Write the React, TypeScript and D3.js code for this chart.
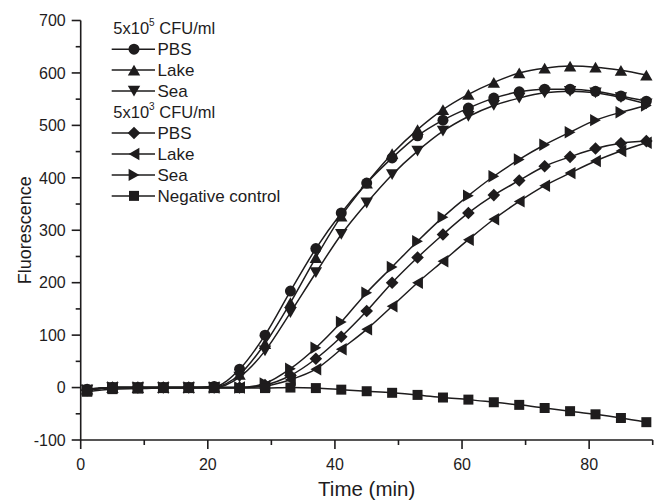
import React from "react";
import * as d3 from "d3";

const times = [1, 5, 9, 13, 17, 21, 25, 29, 33, 37, 41, 45, 49, 53, 57, 61, 65, 69, 73, 77, 81, 85, 89];
const pbsHigh = [-3, 0, 0, 0, 0, 2, 35, 100, 184, 265, 333, 390, 438, 480, 510, 533, 552, 564, 569, 569, 565, 556, 546];
const lakeHigh = [-3, 0, 0, 0, 0, 1, 25, 84, 162, 248, 327, 390, 446, 492, 530, 559, 582, 600, 609, 613, 611, 605, 596];
const seaHigh = [-5, 0, 0, 0, 0, 0, 20, 70, 143, 219, 292, 352, 406, 451, 489, 517, 538, 552, 562, 565, 562, 553, 541];
const pbsLow = [-5, 0, 0, 0, 0, 0, 0, 5, 23, 55, 97, 146, 200, 248, 292, 333, 367, 395, 422, 440, 456, 466, 470];
const lakeLow = [-5, 0, 0, 0, 0, 0, 0, 3, 15, 35, 73, 111, 155, 200, 241, 282, 321, 355, 385, 409, 432, 451, 467];
const seaLow = [-5, 0, 0, 0, 0, 0, 0, 8, 36, 76, 125, 181, 230, 279, 325, 366, 403, 435, 463, 487, 510, 525, 538];
const negControl = [-8, -3, -2, -1, -1, -1, -1, -1, 0, -1, -4, -7, -10, -14, -19, -23, -28, -33, -39, -45, -51, -58, -66];

const xTicks = [0, 20, 40, 60, 80];
const xMinor = [10, 30, 50, 70, 90];
const yTicks = [-100, 0, 100, 200, 300, 400, 500, 600, 700];
const yMinor = [-50, 50, 150, 250, 350, 450, 550, 650];

type Shape = "circle" | "up" | "down" | "diamond" | "left" | "right" | "square";

const series: { name: string; values: number[]; shape: Shape }[] = [
  { name: "PBS", values: pbsHigh, shape: "circle" },
  { name: "Lake", values: lakeHigh, shape: "up" },
  { name: "Sea", values: seaHigh, shape: "down" },
  { name: "PBS", values: pbsLow, shape: "diamond" },
  { name: "Lake", values: lakeLow, shape: "left" },
  { name: "Sea", values: seaLow, shape: "right" },
  { name: "Negative control", values: negControl, shape: "square" },
];

const INK = "#1e1c1d";
const FONT = "Liberation Sans, Arial, sans-serif";

function markerPath(shape: Shape, cx: number, cy: number): string {
  const p = d3.path();
  const w = 6.2;
  const h = 5.4;
  switch (shape) {
    case "circle":
      p.arc(cx, cy, 5.5, 0, Math.PI * 2);
      break;
    case "up":
      p.moveTo(cx, cy - h);
      p.lineTo(cx + w, cy + h);
      p.lineTo(cx - w, cy + h);
      p.closePath();
      break;
    case "down":
      p.moveTo(cx, cy + h);
      p.lineTo(cx + w, cy - h);
      p.lineTo(cx - w, cy - h);
      p.closePath();
      break;
    case "left":
      p.moveTo(cx - h, cy);
      p.lineTo(cx + h, cy - w);
      p.lineTo(cx + h, cy + w);
      p.closePath();
      break;
    case "right":
      p.moveTo(cx + h, cy);
      p.lineTo(cx - h, cy - w);
      p.lineTo(cx - h, cy + w);
      p.closePath();
      break;
    case "diamond":
      p.moveTo(cx, cy - 6.3);
      p.lineTo(cx + 6.3, cy);
      p.lineTo(cx, cy + 6.3);
      p.lineTo(cx - 6.3, cy);
      p.closePath();
      break;
    case "square":
      p.rect(cx - 5, cy - 5, 10, 10);
      break;
  }
  return p.toString();
}

export default function App() {
  const width = 665;
  const height = 500;
  const x = d3.scaleLinear().domain([0, 90]).range([80.7, 652.7]);
  const y = d3.scaleLinear().domain([-100, 700]).range([440, 20.5]);
  const line = d3
    .line<number>()
    .x((_, i) => x(times[i]))
    .y((d) => y(d))
    .curve(d3.curveMonotoneX);

  const legendRows: { kind: "header" | "item"; exp?: string; idx?: number }[] = [
    { kind: "header", exp: "5" },
    { kind: "item", idx: 0 },
    { kind: "item", idx: 1 },
    { kind: "item", idx: 2 },
    { kind: "header", exp: "3" },
    { kind: "item", idx: 3 },
    { kind: "item", idx: 4 },
    { kind: "item", idx: 5 },
    { kind: "item", idx: 6 },
  ];

  return (
    <svg width={width} height={height} style={{ position: "absolute", left: 0, top: 0 }} fontFamily={FONT}>
      <rect width={width} height={height} fill="#fff" />
      {series.map((s, si) => (
        <g key={si}>
          <path d={line(s.values) || ""} fill="none" stroke={INK} strokeWidth={1.5} />
          {s.values.map((v, i) => (
            <path key={i} d={markerPath(s.shape, x(times[i]), y(v))} fill={INK} />
          ))}
        </g>
      ))}
      <g stroke={INK} strokeWidth={1.6}>
        <line x1={x(0)} x2={x(0)} y1={y(700)} y2={y(-100)} />
        <line x1={x(0)} x2={x(90)} y1={y(-100)} y2={y(-100)} />
        {yTicks.map((t) => (
          <line key={"yt" + t} x1={x(0) - 9} x2={x(0)} y1={y(t)} y2={y(t)} />
        ))}
        {yMinor.map((t) => (
          <line key={"ym" + t} x1={x(0) - 5} x2={x(0)} y1={y(t)} y2={y(t)} />
        ))}
        {xTicks.map((t) => (
          <line key={"xt" + t} x1={x(t)} x2={x(t)} y1={y(-100)} y2={y(-100) + 9} />
        ))}
        {xMinor.map((t) => (
          <line key={"xm" + t} x1={x(t)} x2={x(t)} y1={y(-100)} y2={y(-100) + 5} />
        ))}
      </g>
      <g fill={INK} fontSize={16}>
        {yTicks.map((t) => (
          <text key={"yl" + t} x={x(0) - 15} y={y(t) + 5.8} textAnchor="end">
            {t}
          </text>
        ))}
        {xTicks.map((t) => (
          <text key={"xl" + t} x={x(t)} y={y(-100) + 30} textAnchor="middle">
            {t}
          </text>
        ))}
      </g>
      <text x={(x(0) + x(90)) / 2} y={496} textAnchor="middle" fontSize={20.5} fill={INK}>
        Time (min)
      </text>
      <text
        transform={`translate(31, ${(y(700) + y(-100)) / 2}) rotate(-90)`}
        textAnchor="middle"
        fontSize={18}
        fill={INK}
      >
        Fluorescence
      </text>
      <g fill={INK}>
        {legendRows.map((r, ri) => {
          const base = 34 + ri * 20.96;
          if (r.kind === "header") {
            return (
              <text key={ri} x={113.3} y={base} fontSize={16.5}>
                5x10
                <tspan fontSize={10} dy={-8}>
                  {r.exp}
                </tspan>
                <tspan dy={8}> CFU/ml</tspan>
              </text>
            );
          }
          const s = series[r.idx as number];
          const cy = base - 5.8;
          return (
            <g key={ri}>
              <line x1={111.7} x2={155} y1={cy} y2={cy} stroke={INK} strokeWidth={1.5} />
              <path d={markerPath(s.shape, 134, cy)} fill={INK} />
              <text x={157.5} y={base} fontSize={17}>
                {s.name}
              </text>
            </g>
          );
        })}
      </g>
    </svg>
  );
}
